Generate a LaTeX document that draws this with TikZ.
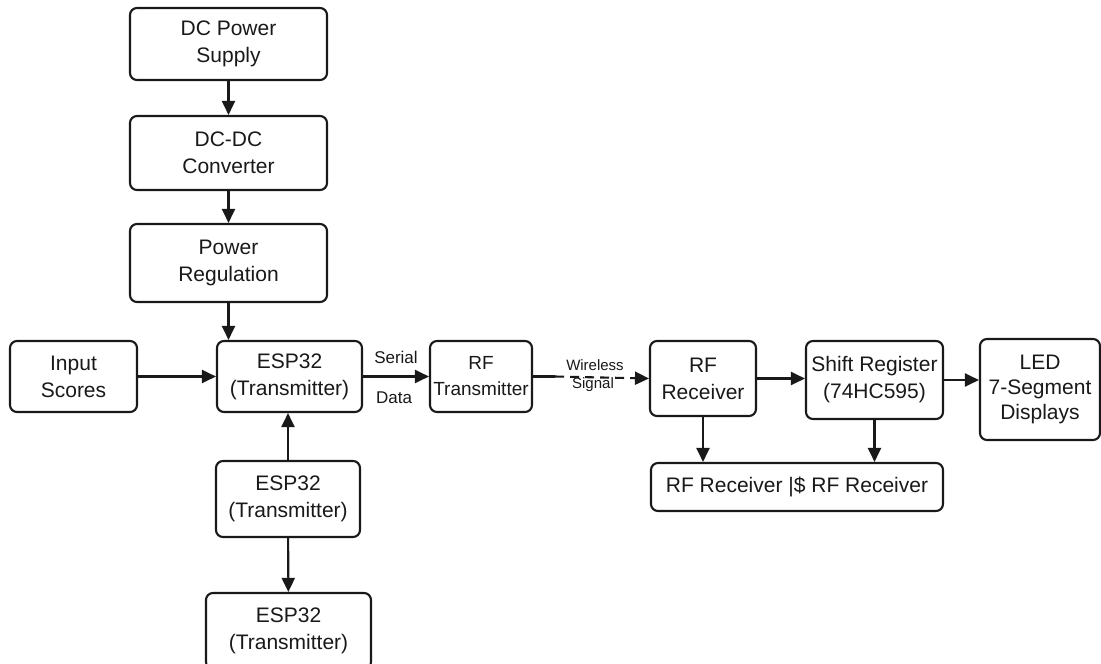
\documentclass[tikz,border=0pt]{standalone}
\usepackage{fontspec}
\setmainfont{Liberation Sans}
\usetikzlibrary{arrows.meta}
\tikzset{
  blk/.style={draw=black!90, line width=2.1pt, rounded corners=7pt, align=center,
     inner sep=0pt, font=\fontsize{21}{27}\selectfont, text=black!90},
  conn/.style={line width=2.1pt, draw=black!90, -{Triangle[length=14pt,width=13pt]}},
  lbl/.style={text=black!90, inner sep=0pt}
}
\begin{document}
\begin{tikzpicture}[x=1pt,y=-1pt]
\useasboundingbox[fill=white] (0,0) rectangle (1101,664);
\node[blk, minimum width=197pt, minimum height=72pt] (dcps) at (228.5,44) {DC Power\\Supply};
\node[blk, minimum width=197pt, minimum height=74pt] (dcdc) at (228.5,153) {DC-DC\\Converter};
\node[blk, minimum width=197pt, minimum height=78pt] (preg) at (228.5,263) {Power\\Regulation};
\node[blk, minimum width=127pt, minimum height=71pt] (inp) at (73.5,376.5) {Input\\Scores};
\node[blk, minimum width=145pt, minimum height=71pt] (esp) at (289.5,376.5) {ESP32\\(Transmitter)};
\node[blk, minimum width=102pt, minimum height=71pt, font=\fontsize{19}{26}\selectfont] (rft) at (481,376.5) {RF\\Transmitter};
\node[blk, minimum width=106pt, minimum height=75pt] (rfr) at (703,378.5) {RF\\Receiver};
\node[blk, minimum width=137pt, minimum height=78pt] (sr) at (874.5,380) {Shift Register\\(74HC595)};
\node[blk, minimum width=120pt, minimum height=101pt, font=\fontsize{21}{25}\selectfont] (led) at (1040,389.5) {LED\\7-Segment\\Displays};
\node[blk, minimum width=292pt, minimum height=48pt] (bot) at (797,487) {RF Receiver |\$ RF Receiver};
\node[blk, minimum width=144pt, minimum height=76pt] (esp2) at (288,499) {ESP32\\(Transmitter)};
\node[blk, minimum width=165pt, minimum height=76pt] (esp3) at (288.5,631) {ESP32\\(Transmitter)};

\draw[conn] (dcps) -- (dcdc);
\draw[conn] (dcdc) -- (preg);
\draw[conn] (preg.south) -- (preg.south |- esp.north);
\draw[conn] (inp) -- (esp);
\draw[conn] (esp) -- (rft);
\draw[conn] (esp2.north) -- (esp2.north |- esp.south);
\draw[conn] (esp2) -- (esp3);
\draw[line width=2.1pt, draw=black!90] (rft.east) -- ++(22,0) coordinate (ds);
\draw[conn, dash pattern=on 9pt off 6pt] (ds) -- (rfr.west);
\draw[conn] (rfr.east) -- (sr.west |- rfr.east);
\draw[conn] (sr.east) -- (led.west |- sr.east);
\draw[conn] (rfr.south) -- (rfr.south |- bot.north);
\draw[conn] (sr.south) -- (sr.south |- bot.north);

\node[lbl, font=\fontsize{17}{18}\selectfont] (ser) at (396,357) {Serial};
\node[lbl, font=\fontsize{17}{18}\selectfont] (dat) at (394,398) {Data};
\node[lbl, font=\fontsize{15}{16}\selectfont] (wir) at (595,365) {Wireless};
\node[lbl, font=\fontsize{15}{16}\selectfont] (sig) at (593,385) {Signal};
\end{tikzpicture}
\end{document}
